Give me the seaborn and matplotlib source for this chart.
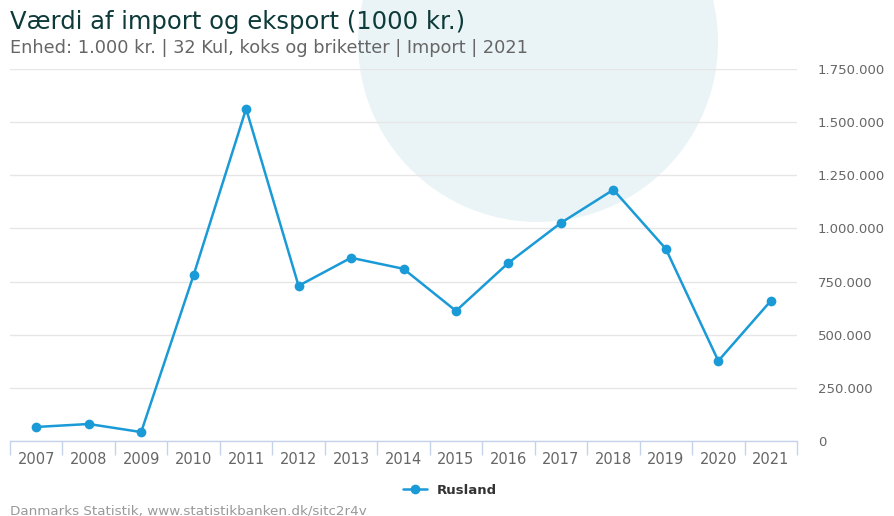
import matplotlib
matplotlib.use("Agg")
import matplotlib.pyplot as plt
import matplotlib.patches as mpatches
from matplotlib.transforms import IdentityTransform
from matplotlib.ticker import FixedLocator, FuncFormatter
import seaborn as sns
import pandas as pd

years = ["2007", "2008", "2009", "2010", "2011", "2012", "2013", "2014",
         "2015", "2016", "2017", "2018", "2019", "2020", "2021"]
rusland = [66000, 80000, 42000, 781000, 1563000, 730000, 862000, 810000,
           612000, 838000, 1026000, 1182000, 904000, 377000, 659000]
yticks = [0, 250000, 500000, 750000, 1000000, 1250000, 1500000, 1750000]

df = pd.DataFrame({"year": years, "value": rusland})

sns.set_theme(style="white")
plt.rcParams["font.family"] = ["DejaVu Sans"]

W, H = 895, 516
fig = plt.figure(figsize=(W / 100, H / 100), dpi=100, facecolor="white")

# decorative circle behind the plot
circ = mpatches.Circle((538, H - 42), 180, transform=IdentityTransform(),
                       facecolor="#eaf4f6", edgecolor="none", zorder=0)
fig.patches.append(circ)

ax = fig.add_axes([10 / W, (H - 441) / H, (797 - 10) / W, (441 - 69) / H])
ax.set_facecolor("none")
ax.set_zorder(1)

sns.lineplot(data=df, x="year", y="value", ax=ax, color="#1a9ad6",
             linewidth=1.8, marker="o", markersize=7, markeredgewidth=0,
             label="Rusland", legend=False)

ax.set_xlim(-0.5, len(years) - 0.5)
ax.set_ylim(0, 1750000)
ax.yaxis.set_major_locator(FixedLocator(yticks))
ax.yaxis.set_major_formatter(FuncFormatter(lambda v, p: f"{int(v):,}".replace(",", ".")))
ax.yaxis.tick_right()
ax.tick_params(axis="y", length=0, pad=15, labelsize=9.5, labelcolor="#666666")
ax.grid(axis="y", color="#e6e6e6", linewidth=1)
ax.set_xlabel("")
ax.set_ylabel("")

ax.xaxis.set_minor_locator(FixedLocator([i - 0.5 for i in range(len(years) + 1)]))
ax.tick_params(axis="x", which="major", bottom=True, length=0, pad=8, labelsize=10.5,
               labelcolor="#666666")
ax.tick_params(axis="x", which="minor", bottom=True, length=10, width=1,
               color="#c6d2ea", direction="out")

for s in ["top", "left", "right"]:
    ax.spines[s].set_visible(False)
ax.spines["bottom"].set_color("#c6d2ea")
ax.spines["bottom"].set_linewidth(1)

fig.text(10 / W, 1 - 22 / H, "Værdi af import og eksport (1000 kr.)", fontsize=17.5,
         color="#0e3b3a", va="center", ha="left")
fig.text(10 / W, 1 - 48 / H, "Enhed: 1.000 kr. | 32 Kul, koks og briketter | Import | 2021",
         fontsize=12.8, color="#666666", va="center", ha="left")

leg = fig.legend(handles=ax.get_lines()[:1], labels=["Rusland"], loc="center",
                 bbox_to_anchor=(450 / W, 1 - 490 / H), frameon=False,
                 handlelength=1.8, prop={"weight": "bold", "size": 9.5})
for t in leg.get_texts():
    t.set_color("#333333")

fig.text(10 / W, 1 - 511 / H, "Danmarks Statistik, www.statistikbanken.dk/sitc2r4v",
         fontsize=9.7, color="#999999", va="center", ha="left")

fig.savefig("out.png", dpi=100)
